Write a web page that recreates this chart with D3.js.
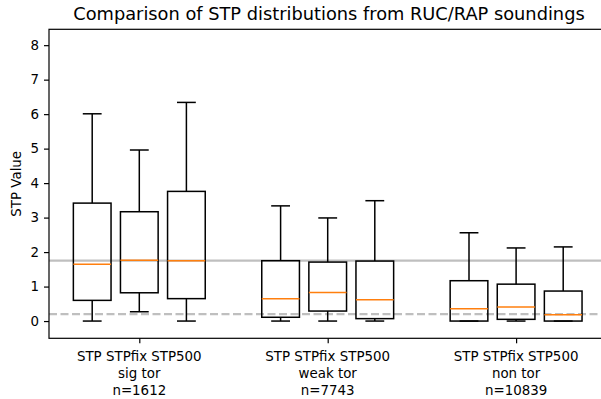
<!DOCTYPE html>
<html>
<head>
<meta charset="utf-8">
<script src="https://cdn.jsdelivr.net/npm/d3@7"></script>
<style>
  body { margin: 0; background: #fff; }
  svg { display: block; font-family: "DejaVu Sans", sans-serif; }
</style>
</head>
<body>
<div id="chart"></div>
<script>
// groups and their sample sizes
var groups = ['sig tor', 'weak tor', 'non tor']
var counts = [1612, 7743, 10839]
var params = ['STP', 'STPfix', 'STP500']

// box stats per group, in the order of params: [low whisker, q1, median, q3, high whisker]
var sigTor = [
  [0, 0.6, 1.65, 3.42, 6.01],
  [0.27, 0.82, 1.76, 3.17, 4.96],
  [0, 0.65, 1.75, 3.76, 6.34]
]
var weakTor = [
  [0, 0.11, 0.65, 1.75, 3.34],
  [0, 0.29, 0.83, 1.71, 2.99],
  [0, 0.07, 0.62, 1.74, 3.49]
]
var nonTor = [
  [0, 0, 0.36, 1.17, 2.56],
  [0, 0.05, 0.41, 1.07, 2.12],
  [0, 0, 0.18, 0.87, 2.15]
]
var yTicks = [0, 1, 2, 3, 4, 5, 6, 7, 8]
var solidRef = 1.75
var dashedRef = 0.2

var allStats = [sigTor, weakTor, nonTor]

const width = 601
const height = 399
const margin = { top: 29.3, right: -8, bottom: 60.7, left: 49 }
const fs = 13.4

var svg = d3.select('#chart')
  .append('svg')
  .attr('width', width)
  .attr('height', height)

// x positions: 1,2,3 / 5,6,7 / 9,10,11
var x = d3.scaleLinear().domain([1, 11]).range([92.2, 563.2])
var y = d3.scaleLinear().domain([-0.5, 8.46]).range([height - margin.bottom, margin.top])
var boxW = x(1.8) - x(1)

var boxes = []
allStats.forEach(function (g, gi) {
  g.forEach(function (s, pi) {
    boxes.push({ pos: gi * 4 + pi + 1, s: s })
  })
})

// reference lines
svg.append('line')
  .attr('x1', margin.left).attr('x2', width)
  .attr('y1', y(solidRef)).attr('y2', y(solidRef))
  .attr('stroke', '#bfbfbf').attr('stroke-width', 2.2)
svg.append('line')
  .attr('x1', margin.left).attr('x2', width)
  .attr('y1', y(dashedRef)).attr('y2', y(dashedRef))
  .attr('stroke', '#bfbfbf').attr('stroke-width', 2.2)
  .attr('stroke-dasharray', '8,3.5')

var bx = svg.append('g').selectAll('g').data(boxes).join('g')

// whiskers
bx.append('line')
  .attr('x1', d => x(d.pos)).attr('x2', d => x(d.pos))
  .attr('y1', d => y(d.s[0])).attr('y2', d => y(d.s[1]))
  .attr('stroke', '#000').attr('stroke-width', 1.5)
bx.append('line')
  .attr('x1', d => x(d.pos)).attr('x2', d => x(d.pos))
  .attr('y1', d => y(d.s[3])).attr('y2', d => y(d.s[4]))
  .attr('stroke', '#000').attr('stroke-width', 1.5)
// caps
bx.selectAll('.cap').data(d => [d, d].map((e, i) => ({ pos: e.pos, v: i ? e.s[4] : e.s[0] })))
  .join('line')
  .attr('x1', d => x(d.pos - 0.2)).attr('x2', d => x(d.pos + 0.2))
  .attr('y1', d => y(d.v)).attr('y2', d => y(d.v))
  .attr('stroke', '#000').attr('stroke-width', 1.5)
// box
bx.append('rect')
  .attr('x', d => x(d.pos) - boxW / 2)
  .attr('width', boxW)
  .attr('y', d => y(d.s[3]))
  .attr('height', d => y(d.s[1]) - y(d.s[3]))
  .attr('fill', 'none').attr('stroke', '#000').attr('stroke-width', 1.5)
// median
bx.append('line')
  .attr('x1', d => x(d.pos) - boxW / 2).attr('x2', d => x(d.pos) + boxW / 2)
  .attr('y1', d => y(d.s[2])).attr('y2', d => y(d.s[2]))
  .attr('stroke', '#ff7f0e').attr('stroke-width', 1.5)

// axes frame
var plotBottom = height - margin.bottom
svg.append('rect')
  .attr('x', margin.left).attr('y', margin.top)
  .attr('width', width - margin.left - margin.right)
  .attr('height', plotBottom - margin.top)
  .attr('fill', 'none').attr('stroke', '#000').attr('stroke-width', 1.2)

// y axis
var yAxis = d3.axisLeft(y).tickValues(yTicks).tickSize(5).tickPadding(5)
var gy = svg.append('g')
  .attr('transform', 'translate(' + margin.left + ',0)')
  .call(yAxis)
gy.select('.domain').remove()
gy.selectAll('text').attr('font-size', fs).attr('font-family', '"DejaVu Sans"').attr('fill', '#000')
gy.selectAll('line').attr('stroke-width', 1.2)

// x axis with three-line labels
var xAxis = d3.axisBottom(x).tickValues([2, 6, 10]).tickSize(5).tickFormat('')
var gx = svg.append('g')
  .attr('transform', 'translate(0,' + plotBottom + ')')
  .call(xAxis)
gx.select('.domain').remove()
gx.selectAll('line').attr('stroke-width', 1.2)

groups.forEach(function (g, i) {
  var t = svg.append('text')
    .attr('x', x(i * 4 + 2))
    .attr('y', 361)
    .attr('text-anchor', 'middle')
    .attr('font-size', fs)
  var lines = [params.join(' '), g, 'n=' + counts[i]]
  lines.forEach(function (l, li) {
    t.append('tspan').attr('x', x(i * 4 + 2)).attr('dy', li ? 16.8 : 0).text(l)
  })
})

// labels
svg.append('text')
  .attr('transform', 'translate(21,' + ((margin.top + plotBottom) / 2) + ') rotate(-90)')
  .attr('text-anchor', 'middle')
  .attr('font-size', fs)
  .text('STP Value')

svg.append('text')
  .attr('x', (margin.left + width - margin.right) / 2)
  .attr('y', 20)
  .attr('text-anchor', 'middle')
  .attr('font-size', 17.8)
  .text('Comparison of STP distributions from RUC/RAP soundings')
</script>
</body>
</html>
